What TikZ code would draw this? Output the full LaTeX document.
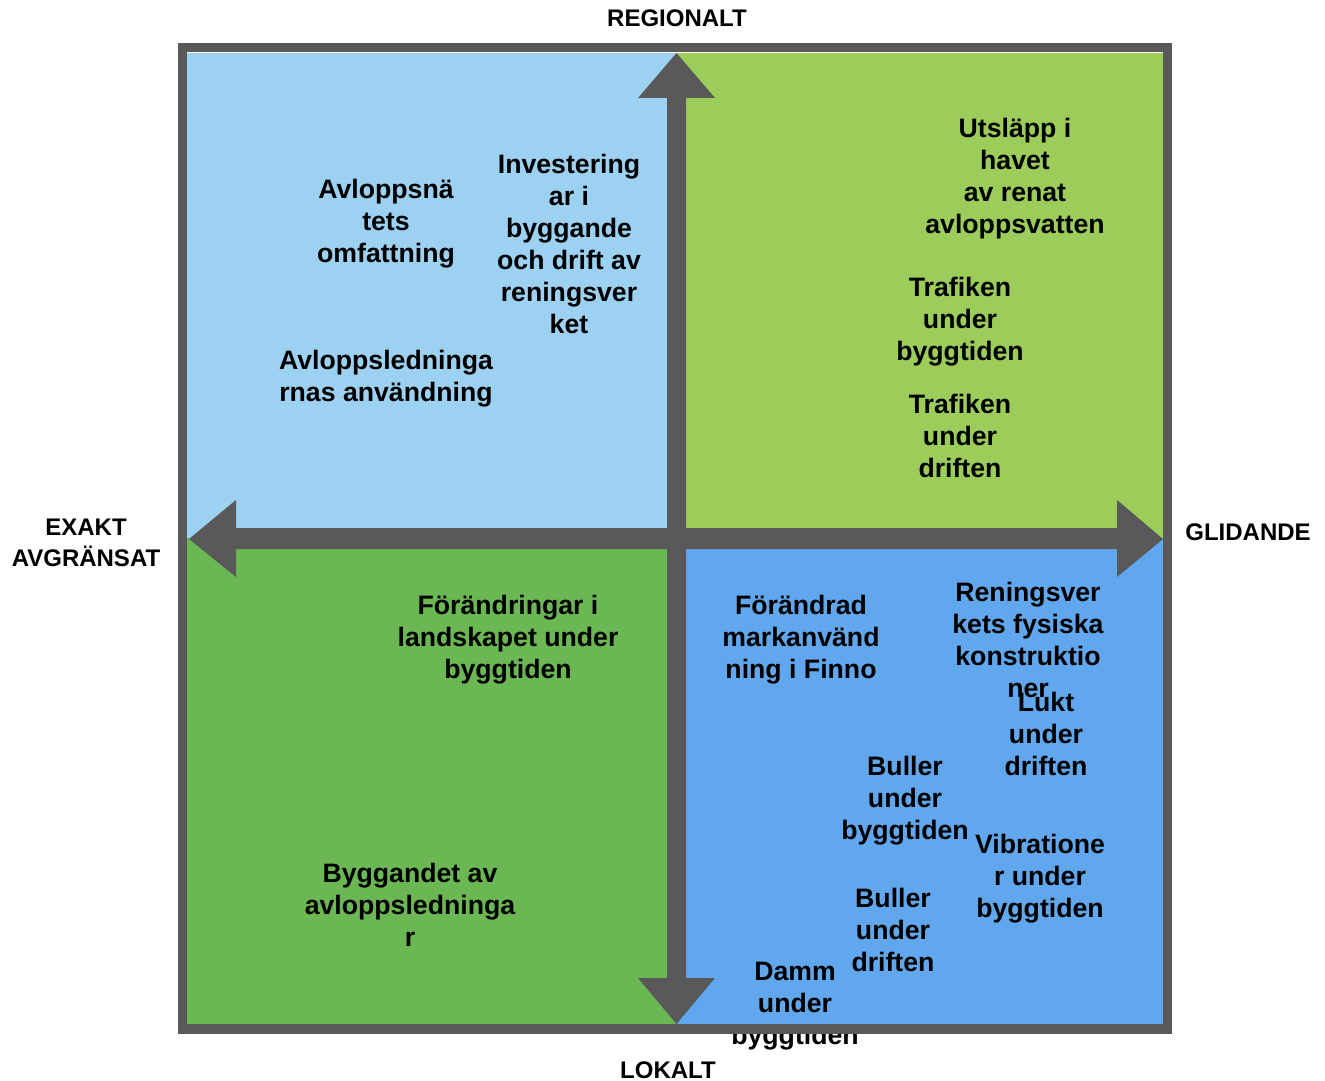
\documentclass[tikz,border=0pt]{standalone}
\usepackage{fontspec}
\setmainfont{Liberation Sans}
\definecolor{qtl}{HTML}{9DD1F2}
\definecolor{qtr}{HTML}{9CCD5B}
\definecolor{qbl}{HTML}{6AB753}
\definecolor{qbr}{HTML}{60A7EE}
\definecolor{axisgray}{HTML}{595959}
\tikzset{
  itemtext/.style={align=center, inner sep=0pt, font=\bfseries\fontsize{20}{24}\selectfont},
  axislabel/.style={align=center, inner sep=0pt, font=\bfseries\fontsize{18}{23.25}\selectfont},
}
\begin{document}
\begin{tikzpicture}[x=0.75pt,y=-0.75pt]
\useasboundingbox (0,0) rectangle (1325,1081);
% quadrants
\fill[qtl] (187,53) rectangle (676,538);
\fill[qtr] (676,53) rectangle (1163,538);
\fill[qbl] (187,538) rectangle (676,1024);
\fill[qbr] (676,538) rectangle (1163,1024);
% arrows
\fill[axisgray] (676.5,53) -- (715,98) -- (686,98) -- (686,978) -- (715,978) -- (676.5,1024)
  -- (638,978) -- (667,978) -- (667,98) -- (638,98) -- cycle;
\fill[axisgray] (189,539) -- (236,500) -- (236,528) -- (1117,528) -- (1117,500) -- (1163,539)
  -- (1117,577) -- (1117,549) -- (236,549) -- (236,577) -- cycle;
% texts top-left
\node[itemtext] (t1) at (386,224) {Avloppsnä\\tets\\omfattning};
\node[itemtext] (t2) at (569,244) {Investering\\ar i\\byggande\\och drift av\\reningsver\\ket};
\node[itemtext] (t3) at (386,379) {Avloppsledninga\\rnas användning};
% top-right
\node[itemtext] (t4) at (1015,179) {Utsläpp i\\havet\\av renat\\avloppsvatten};
\node[itemtext] (t5) at (960,322) {Trafiken\\under\\byggtiden};
\node[itemtext] (t6) at (960,436) {Trafiken\\under\\driften};
% bottom-left
\node[itemtext] (t7) at (508,640) {Förändringar i\\landskapet under\\byggtiden};
\node[itemtext] (t8) at (410,905) {Byggandet av\\avloppsledninga\\r};
% bottom-right
\node[itemtext] (t9) at (801,640) {Förändrad\\markanvänd\\ning i Finno};
\node[itemtext] (t10) at (1028,640) {Reningsver\\kets fysiska\\konstruktio\\ner};
\node[itemtext] (t11) at (1046,734) {Lukt\\under\\driften};
\node[itemtext] (t12) at (905,801) {Buller\\under\\byggtiden};
\node[itemtext] (t13) at (1040,879) {Vibratione\\r under\\byggtiden};
\node[itemtext] (t14) at (893,930) {Buller\\under\\driften};
\node[itemtext] (t15) at (795,1006) {Damm\\under\\byggtiden};
% border
\draw[axisgray, line width=7.1pt] (182.5,47.5) rectangle (1167.5,1029);
% axis labels
\node[axislabel] (reg) at (677,18) {REGIONALT};
\node[axislabel] (lok) at (668,1070) {LOKALT};
\node[axislabel] (gli) at (1248,532) {GLIDANDE};
\node[axislabel] (exa) at (86,543) {EXAKT\\AVGRÄNSAT};
\end{tikzpicture}
\end{document}
